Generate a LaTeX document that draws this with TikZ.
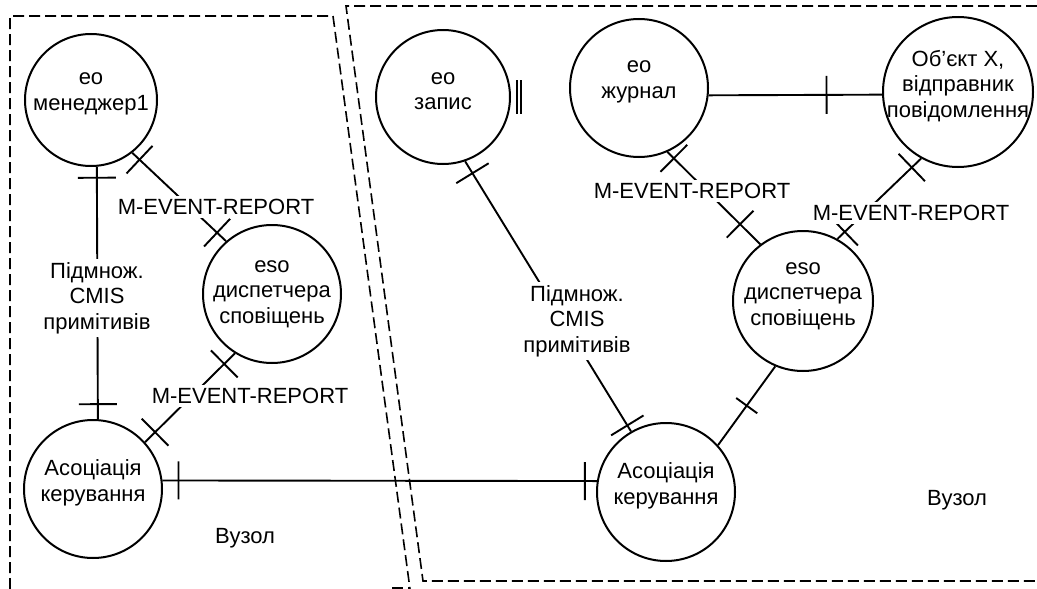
\documentclass[tikz,border=0pt]{standalone}
\usepackage{fontspec}
\setmainfont{Liberation Sans}
\usetikzlibrary{decorations.markings}
\newcommand\labfont{\fontsize{22}{25.5}\selectfont}
\tikzset{
  circ/.style={circle, draw, line width=2pt, inner sep=0pt, minimum size=#1},
  txt/.style={align=center, font=\labfont, inner sep=1pt},
  lbl/.style={align=center, font=\labfont, fill=white, inner xsep=2pt, inner ysep=3pt},
  link/.style={line width=1.9pt},
  tickline/.style={line width=1.9pt},
  tk/.style={postaction={decorate, decoration={markings,
      mark=at position #1 with {\draw[tickline] (0pt,-19pt) -- (0pt,19pt);}}}},
  tks/.style={postaction={decorate, decoration={markings,
      mark=at position #1 with {\draw[tickline] (0pt,-13pt) -- (0pt,13pt);}}}},
  bound/.style={line width=1.6pt, dash pattern=on 11pt off 5pt}
}
\begin{document}
\begin{tikzpicture}[x=1pt, y=-1pt]
\useasboundingbox (0,0) rectangle (1037,589);

% node boundaries
\draw[bound] (10,589) -- (10,16) -- (333,16) -- (410,589);
\draw[bound] (392,588) -- (410,588);
\draw[bound] (1037,6) -- (346,6) -- (423,581) -- (1037,581);

% objects of the left node
\node[circ=132pt] (m1) at (91,100) {};
\node[circ=138pt] (esoL) at (272,294) {};
\node[circ=138pt] (asl) at (93,489) {};
% objects of the right node
\node[circ=134pt] (ez) at (443,97) {};
\node[circ=138pt] (ej) at (639,88) {};
\node[circ=150pt] (obx) at (958,92) {};
\node[circ=140pt] (esoR) at (803,301) {};
\node[circ=138pt] (asr) at (666,492) {};

% texts inside the circles
\node[txt] (tm1) at ([yshift=6pt]m1.center) {eo\\менеджер1};
\node[txt] (tesoL) at (esoL.center) {eso\\диспетчера\\сповіщень};
\node[txt] (tasl) at ([yshift=6pt]asl.center) {Асоціація\\керування};
\node[txt] (tez) at ([yshift=6pt]ez.center) {eo\\запис};
\node[txt] (tej) at ([yshift=6pt]ej.center) {eo\\журнал};
\node[txt] (tobx) at ([yshift=6pt]obx.center) {Об’єкт X,\\відправник\\повідомлення};
\node[txt] (tesoR) at ([yshift=5pt]esoR.center) {eso\\диспетчера\\сповіщень};
\node[txt] (tasr) at ([yshift=6pt]asr.center) {Асоціація\\керування};

% connectors
\draw[link, tk=11pt, tk=-15pt] (m1.-85) -- (asl.86);
\draw[link, tk=10pt, tk=-12pt] (m1.-52) -- (esoL.131);
\draw[link, tk=15pt, tk=-14pt] (esoL.-122) -- (asl.42);
\draw[link, tk=16pt, tk=-12pt] (asl.7) -- (asr.171);
\draw[link, tk=14pt, tk=-7pt] (ez.-71) -- (asr.120);
\draw[link, tk=0.68] (ej.-6) -- (obx.182);
\draw[link, tk=9pt, tk=-28pt] (ej.-66) -- (esoR.127);
\draw[link, tk=13pt, tk=-10pt] (obx.-119) -- (esoR.61);
\draw[link, tks=0.5] (esoR.-113) -- (asr.42);
% stub bar beside the record object
\draw[tickline] ([xshift=6pt,yshift=17pt]ez.east) -- ([xshift=6pt,yshift=-17pt]ez.east);
\draw[tickline] ([xshift=10pt,yshift=17pt]ez.east) -- ([xshift=10pt,yshift=-17pt]ez.east);

% connector labels
\node[lbl] (ps1) at (97,298) {Підмнож.\\CMIS\\примітивів};
\node[lbl] (me1) at (216,207) {M-EVENT-REPORT};
\node[lbl] (me2) at (250,396) {M-EVENT-REPORT};
\node[lbl] (ps2) at (577,321) {Підмнож.\\CMIS\\примітивів};
\node[lbl] (me3) at (692,191) {M-EVENT-REPORT};
\node[lbl] (me4) at (911,213) {M-EVENT-REPORT};

% node captions
\node[txt] (v1) at (245,538) {Вузол};
\node[txt] (v2) at (957,500) {Вузол};
\end{tikzpicture}
\end{document}
